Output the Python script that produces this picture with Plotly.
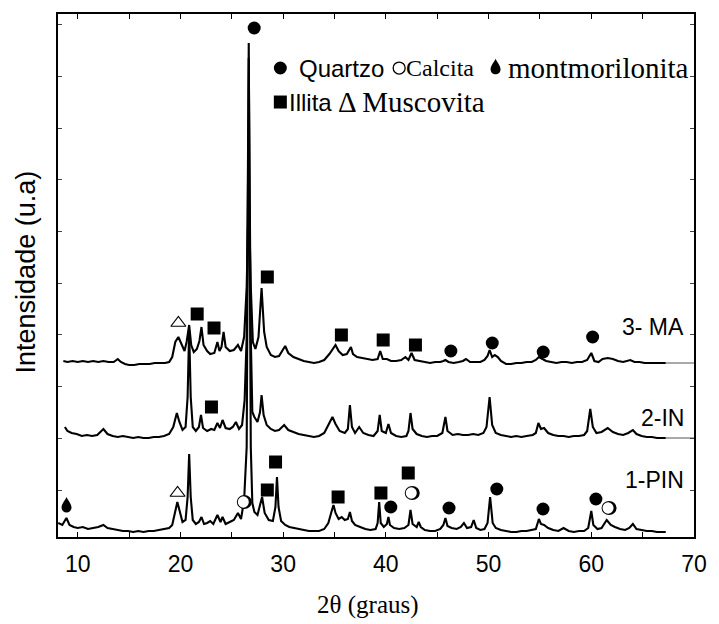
import plotly.graph_objects as go

# ---------------- data (2theta in degrees, intensity in arbitrary units) ----------------
pin_x = [8.1, 8.5, 8.9, 9.2, 9.6, 10.0, 10.5, 11.0, 11.5, 12.0, 12.5, 12.9, 13.4, 13.9, 14.4, 14.9,
         15.4, 15.9, 16.4, 16.9, 17.4, 17.9, 18.4, 18.9, 19.2, 19.5, 19.7, 19.9, 20.2, 20.5, 20.7,
         20.85, 21.0, 21.2, 21.5, 21.8, 22.05, 22.3, 22.6, 22.9, 23.2, 23.6, 23.9, 24.1, 24.4, 24.8,
         25.2, 25.6, 25.9, 26.2, 26.45, 26.65, 26.85, 27.0, 27.2, 27.5, 27.95, 28.2, 28.6, 29.0,
         29.25, 29.4, 29.55, 29.8, 30.2, 30.6, 31.0, 31.5, 32.0, 32.5, 33.0, 33.5, 34.0, 34.4, 34.7,
         34.9, 35.1, 35.4, 35.7, 36.0, 36.3, 36.5, 36.7, 37.0, 37.5, 38.0, 38.5, 39.0, 39.2, 39.35,
         39.5, 39.8, 40.1, 40.25, 40.4, 40.8, 41.3, 41.8, 42.2, 42.4, 42.6, 43.0, 43.2, 43.4, 43.8,
         44.3, 44.8, 45.3, 45.6, 45.8, 46.0, 46.4, 46.9, 47.3, 47.6, 47.9, 48.3, 48.55, 48.8, 49.2,
         49.6, 49.9, 50.15, 50.4, 50.7, 51.2, 51.7, 52.2, 52.7, 53.2, 53.7, 54.2, 54.6, 54.9, 55.1,
         55.4, 55.8, 56.3, 56.8, 57.3, 57.8, 58.3, 58.8, 59.3, 59.7, 60.0, 60.2, 60.6, 61.0, 61.5,
         61.9, 62.3, 62.8, 63.3, 63.7, 64.05, 64.4, 64.9, 65.4, 65.9, 66.4, 66.9, 67.25]
pin_y = [14, 12, 19, 12, 10, 9, 10, 8, 9, 10, 12, 9, 8, 7, 6, 6,
         5, 6, 5, 6, 6, 7, 8, 9, 12, 24, 35, 27, 15, 17, 40,
         83, 40, 17, 13, 15, 20, 13, 14, 16, 13, 22, 15, 20, 13, 15,
         17, 24, 18, 37, 90, 494, 90, 34, 25, 22, 40, 24, 17, 16,
         30, 60, 30, 16, 12, 10, 9, 8, 7, 6, 6, 6, 8, 14, 25,
         32, 24, 18, 20, 17, 18, 25, 16, 12, 10, 8, 7, 8, 14, 35,
         14, 10, 13, 20, 12, 9, 8, 9, 12, 27, 13, 10, 15, 10, 7,
         6, 6, 8, 12, 19, 11, 9, 8, 10, 14, 9, 10, 17, 9, 7,
         8, 14, 40, 14, 9, 7, 6, 5, 5, 6, 6, 7, 8, 18, 13,
         12, 9, 7, 6, 9, 6, 5, 6, 6, 9, 26, 12, 8, 9, 17,
         12, 10, 8, 7, 9, 13, 8, 7, 6, 6, 5, 5, 5]

in_x = [8.75, 9.0, 9.4, 9.9, 10.4, 10.9, 11.4, 11.9, 12.5, 12.9, 13.4, 13.9, 14.4, 14.9, 15.4, 15.9,
        16.4, 16.9, 17.4, 17.9, 18.4, 18.9, 19.3, 19.65, 19.9, 20.2, 20.5, 20.7, 20.85, 21.0, 21.2,
        21.5, 21.8, 22.0, 22.2, 22.6, 23.0, 23.3, 23.6, 23.85, 24.1, 24.4, 24.8, 25.1, 25.4, 25.7,
        26.0, 26.25, 26.45, 26.65, 26.85, 27.0, 27.2, 27.5, 27.75, 27.9, 28.1, 28.4, 28.8, 29.2,
        29.6, 30.1, 30.5, 31.0, 31.5, 32.0, 32.5, 33.0, 33.5, 34.0, 34.4, 34.8, 35.1, 35.5, 36.0,
        36.3, 36.5, 36.7, 37.0, 37.4, 37.8, 38.3, 38.8, 39.2, 39.4, 39.6, 40.0, 40.25, 40.5, 41.0,
        41.5, 42.0, 42.2, 42.4, 42.6, 43.0, 43.5, 44.0, 44.5, 45.0, 45.5, 45.8, 46.0, 46.5, 47.0,
        47.5, 48.0, 48.5, 49.0, 49.5, 49.8, 50.1, 50.35, 50.7, 51.2, 51.7, 52.2, 52.7, 53.2, 53.7,
        54.3, 54.6, 54.85, 55.1, 55.4, 55.8, 56.3, 56.8, 57.3, 57.8, 58.3, 58.8, 59.3, 59.6, 59.9,
        60.15, 60.5, 61.0, 61.6, 62.1, 62.6, 63.1, 63.6, 64.05, 64.4, 64.9, 65.4, 65.9, 66.4, 66.9,
        67.25]
in_y = [110, 106, 104, 103, 101, 102, 101, 102, 108, 103, 101, 100, 101, 100, 99, 100,
        99, 99, 100, 100, 101, 103, 110, 124, 115, 107, 110, 140, 207, 140, 110,
        106, 110, 122, 109, 106, 108, 107, 114, 109, 117, 109, 108, 110, 115, 108,
        112, 137, 200, 479, 200, 125, 120, 115, 125, 142, 122, 112, 108, 106,
        107, 112, 107, 105, 103, 102, 101, 100, 101, 104, 112, 120, 113, 106, 104,
        108, 132, 110, 104, 110, 104, 102, 101, 106, 122, 106, 104, 113, 104, 101,
        100, 101, 106, 124, 108, 103, 101, 100, 101, 101, 104, 120, 106, 102, 103,
        102, 102, 103, 102, 104, 110, 140, 112, 104, 102, 101, 100, 101, 100, 101,
        102, 104, 114, 108, 109, 104, 102, 101, 101, 100, 101, 101, 102, 106, 128,
        110, 104, 105, 109, 105, 103, 102, 104, 107, 103, 101, 100, 100, 99, 99,
        99]

ma_x = [8.6, 9.0, 9.5, 10.0, 10.5, 11.0, 11.5, 12.0, 12.5, 13.0, 13.5, 13.9, 14.2, 14.6, 15.0, 15.5,
        16.0, 16.5, 17.0, 17.5, 18.0, 18.5, 18.9, 19.2, 19.5, 19.8, 20.1, 20.4, 20.6, 20.85, 21.05,
        21.3, 21.6, 21.85, 22.05, 22.25, 22.6, 22.9, 23.3, 23.6, 23.8, 24.0, 24.2, 24.4, 24.8, 25.2,
        25.6, 25.9, 26.2, 26.45, 26.65, 26.85, 27.05, 27.3, 27.6, 27.9, 28.15, 28.4, 28.8, 29.2,
        29.6, 29.9, 30.2, 30.5, 31.0, 31.5, 32.0, 32.5, 33.0, 33.5, 34.0, 34.5, 34.8, 35.1, 35.4,
        35.8, 36.2, 36.6, 36.8, 37.2, 37.7, 38.2, 38.7, 39.2, 39.45, 39.7, 40.1, 40.5, 41.0, 41.5,
        41.9, 42.2, 42.5, 42.8, 43.3, 43.8, 44.3, 44.8, 45.3, 45.6, 45.8, 46.1, 46.6, 47.1, 47.5,
        47.8, 48.2, 48.7, 49.2, 49.6, 49.9, 50.1, 50.35, 50.6, 50.9, 51.2, 51.7, 52.2, 52.7, 53.2,
        53.7, 54.2, 54.6, 54.9, 55.2, 55.6, 56.1, 56.6, 57.1, 57.6, 58.1, 58.6, 59.1, 59.6, 60.0,
        60.3, 60.7, 61.1, 61.6, 62.1, 62.6, 63.1, 63.8, 64.2, 64.7, 65.2, 65.7, 66.2, 66.7, 67.25]
ma_y = [176, 175, 176, 175, 176, 175, 176, 175, 176, 175, 175, 178, 175, 173, 172, 172,
        173, 173, 173, 174, 174, 174, 175, 180, 195, 200, 193, 186, 195, 212, 192,
        185, 188, 196, 210, 192, 186, 183, 184, 195, 186, 190, 205, 190, 186, 187,
        192, 186, 200, 250, 347, 250, 195, 188, 200, 249, 205, 190, 182, 180,
        181, 186, 191, 184, 180, 178, 176, 175, 174, 175, 177, 183, 188, 192, 186,
        182, 183, 190, 183, 180, 179, 178, 177, 178, 186, 178, 178, 176, 176, 177,
        180, 177, 184, 177, 176, 175, 174, 175, 175, 176, 177, 175, 174, 175, 176,
        178, 175, 175, 175, 177, 181, 187, 180, 182, 180, 176, 173, 173, 174, 174,
        175, 175, 177, 180, 178, 176, 175, 174, 175, 175, 174, 175, 175, 177, 184,
        176, 175, 178, 179, 178, 176, 175, 177, 175, 175, 174, 174, 174, 174, 174]

# flat continuation of the two upper patterns to the right frame
ext_x = [67.25, 70.0]
ma_ext_y = [174, 174]
in_ext_y = [99, 99]

sample_names = ["1-PIN", "2-IN", "3- MA"]

# phase markers (position)
quartz_x = [27.18, 46.33, 50.36, 55.32, 60.13, 40.48, 46.15, 50.8, 55.3, 60.45]
quartz_y = [509, 186, 194, 185, 200, 30, 29, 48, 28, 38]
illite_x = [21.63, 23.27, 28.46, 35.67, 39.74, 42.88, 23.02, 28.46, 29.26, 35.35, 39.52, 42.18]
illite_y = [223, 209, 260, 202, 197, 192, 130, 47, 75, 40, 44, 64]
muscovite_x = [19.8, 19.72]
muscovite_y = [214, 44]
calcite_x = [26.22, 42.57, 61.73]
calcite_y = [35, 44, 29]
montmor_x = [8.91]
montmor_y = [32]

SANS = "Liberation Sans, Arial, sans-serif"
SERIF = "Liberation Serif, Times New Roman, serif"

fig = go.Figure()

for xs, ys in [(pin_x, pin_y), (in_x, in_y), (ma_x, ma_y)]:
    fig.add_trace(go.Scatter(x=xs, y=ys, mode="lines",
                             line=dict(color="black", width=2.1), showlegend=False,
                             hoverinfo="skip"))
for ys in [ma_ext_y, in_ext_y]:
    fig.add_trace(go.Scatter(x=ext_x, y=ys, mode="lines",
                             line=dict(color="#555555", width=1), showlegend=False,
                             hoverinfo="skip"))

fig.add_trace(go.Scatter(x=quartz_x, y=quartz_y, mode="markers",
                         marker=dict(symbol="circle", size=13, color="black"), showlegend=False))
fig.add_trace(go.Scatter(x=illite_x, y=illite_y, mode="markers",
                         marker=dict(symbol="square", size=13, color="black"), showlegend=False))
fig.add_trace(go.Scatter(x=muscovite_x, y=muscovite_y, mode="markers",
                         marker=dict(symbol="triangle-up-open", size=13, color="black",
                                     line=dict(width=1.2)), showlegend=False))

shapes = []
# calcite: open circle with heavier right rim
for cx, cy in zip(calcite_x, calcite_y):
    shapes.append(dict(type="circle", xref="x", yref="y", xsizemode="pixel", ysizemode="pixel",
                       xanchor=cx, yanchor=cy, x0=-7.5, x1=7.5, y0=-7, y1=7,
                       fillcolor="black", line=dict(width=0)))
    shapes.append(dict(type="circle", xref="x", yref="y", xsizemode="pixel", ysizemode="pixel",
                       xanchor=cx, yanchor=cy, x0=-6.5, x1=4.5, y0=-5.8, y1=5.8,
                       fillcolor="white", line=dict(width=0)))

drop_path = ("M 0 8 C 1.3 5 5 1 5 -2.5 C 5 -5.5 2.8 -7.5 0 -7.5 "
             "C -2.8 -7.5 -5 -5.5 -5 -2.5 C -5 1 -1.3 5 0 8 Z")
for cx, cy in zip(montmor_x, montmor_y):
    shapes.append(dict(type="path", xref="x", yref="y", xsizemode="pixel", ysizemode="pixel",
                       xanchor=cx, yanchor=cy, path=drop_path,
                       fillcolor="black", line=dict(width=0)))

# key symbols (paper coordinates, pixel sized)
key = dict(xref="paper", yref="paper", xsizemode="pixel", ysizemode="pixel")
shapes.append(dict(type="circle", xanchor=0.3496, yanchor=0.8967, x0=-6.5, x1=6.5, y0=-6.5, y1=6.5,
                   fillcolor="black", line=dict(width=0), **key))
shapes.append(dict(type="circle", xanchor=0.5364, yanchor=0.8967, x0=-6, x1=6, y0=-6, y1=6,
                   fillcolor="rgba(0,0,0,0)", line=dict(width=1.3, color="black"), **key))
shapes.append(dict(type="path", xanchor=0.688, yanchor=0.899, path=drop_path,
                   fillcolor="black", line=dict(width=0), **key))
shapes.append(dict(type="rect", xanchor=0.3496, yanchor=0.8317, x0=-6.5, x1=6.5, y0=-6.5, y1=6.5,
                   fillcolor="black", line=dict(width=0), **key))

annotations = [
    dict(text="Quartzo", x=0.3755, y=0.8967, font=dict(family=SANS, size=24, color="black")),
    dict(text="Calcita", x=0.5435, y=0.8967, font=dict(family=SERIF, size=24, color="black")),
    dict(text="montmorilonita", x=0.7045, y=0.8967, font=dict(family=SERIF, size=29, color="black")),
    dict(text="Illita", x=0.3595, y=0.8317, font=dict(family=SANS, size=24, color="black")),
    dict(text="Δ Muscovita", x=0.437, y=0.8317, font=dict(family=SERIF, size=29, color="black")),
]
for a in annotations:
    a.update(xref="paper", yref="paper", xanchor="left", yanchor="middle", showarrow=False)

label_y = [0.109, 0.2275, 0.4015]
for name, ly in zip(sample_names, label_y):
    annotations.append(dict(text=name, x=0.9876, y=ly, xref="paper", yref="paper",
                            xanchor="right", yanchor="middle", showarrow=False,
                            font=dict(family=SANS, size=23, color="black")))

annotations.append(dict(text="2θ (graus)", x=0.487, y=-0.130, xref="paper", yref="paper",
                        xanchor="center", yanchor="middle", showarrow=False,
                        font=dict(family=SERIF, size=25, color="black")))
annotations.append(dict(text="Intensidade (u.a)", x=-0.0496, y=0.5067, xref="paper", yref="paper",
                        xanchor="center", yanchor="middle", showarrow=False, textangle=-90,
                        font=dict(family=SANS, size=27, color="black")))

fig.update_layout(
    width=719, height=624,
    margin=dict(l=58, r=16, t=14, b=87),
    paper_bgcolor="white", plot_bgcolor="white",
    showlegend=False,
    font=dict(color="black"),
    shapes=shapes, annotations=annotations,
    xaxis=dict(range=[8.08, 70], dtick=10, tick0=0, ticks="inside", ticklen=5, tickwidth=1,
               tickcolor="black", showline=True, linecolor="black", linewidth=1.5,
               mirror="ticks", showgrid=False, zeroline=False,
               tickfont=dict(family=SANS, size=23, color="black"), ticklabelstandoff=6,
               minor=dict(dtick=5, ticks="inside", ticklen=5, tickcolor="black", showgrid=False)),
    yaxis=dict(range=[0, 523], dtick=51.7, tick0=47, ticks="inside", ticklen=4, tickwidth=1,
               tickcolor="#444", showline=True, linecolor="black", linewidth=1.5,
               mirror="ticks", showgrid=False, zeroline=False, showticklabels=False),
)

fig.write_html("out.html")
